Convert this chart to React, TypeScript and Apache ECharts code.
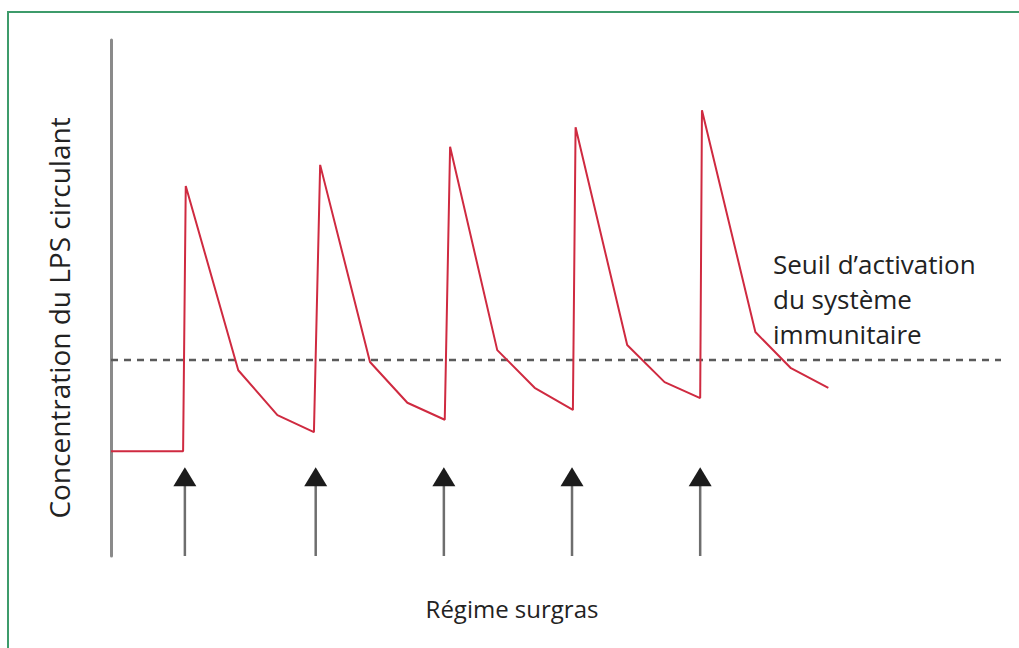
import React, { useEffect, useRef } from "react";
import * as echarts from "echarts";

// Time axis (arbitrary units) and LPS concentration (arbitrary units)
const lpsX = [0, 8.1, 8.4, 14.3, 18.7, 22.8, 23.5, 29.1, 33.3, 37.5, 38.1, 43.4, 47.6, 51.9, 52.2, 58.0, 62.2, 66.2, 66.4, 72.4, 76.4, 80.6];
const lpsY = [20.3, 20.3, 71.7, 36.0, 27.3, 24.0, 75.8, 37.6, 29.7, 26.4, 79.3, 39.9, 32.6, 28.3, 83.1, 40.9, 33.7, 30.6, 86.4, 43.4, 36.4, 32.6];
const threshold = 38.0;
const mealTimes = [8.3, 23.0, 37.4, 51.8, 66.2];
const arrowTop = 17.2;

const yLabel = "Concentration du LPS circulant";
const xLabel = "Régime surgras";
const thresholdLabel = "Seuil d\u2019activation\ndu système\nimmunitaire";

export default function App() {
  const ref = useRef<HTMLDivElement>(null);
  useEffect(() => {
    if (!ref.current) return;
    const chart = echarts.init(ref.current, undefined, { renderer: "svg" });
    const font = "'Open Sans', 'Noto Sans', sans-serif";
    chart.setOption({
      animation: false,
      backgroundColor: "#ffffff",
      grid: { left: 111, top: 40, width: 890, height: 516 },
      xAxis: { type: "value", min: 0, max: 100, show: false },
      yAxis: {
        type: "value",
        min: 0,
        max: 100,
        axisLine: { show: true, lineStyle: { color: "#8a8a8a", width: 3 } },
        axisTick: { show: false },
        axisLabel: { show: false },
        splitLine: { show: false },
      },
      graphic: [
        {
          type: "rect",
          shape: { x: 8, y: 12, width: 1200, height: 800 },
          style: { fill: "none", stroke: "#3d9b6b", lineWidth: 2 },
          silent: true,
        },
        {
          type: "text",
          x: 59,
          y: 318,
          rotation: Math.PI / 2,
          style: {
            text: yLabel,
            font: `28px ${font}`,
            fill: "#222",
            textAlign: "center",
            textVerticalAlign: "middle",
          },
        },
        {
          type: "text",
          x: 512,
          y: 608,
          style: {
            text: xLabel,
            font: `24px ${font}`,
            fill: "#222",
            textAlign: "center",
            textVerticalAlign: "middle",
          },
        },
        {
          type: "text",
          x: 773,
          y: 299,
          style: {
            text: thresholdLabel,
            font: `26px ${font}`,
            lineHeight: 35,
            fill: "#222",
            textAlign: "left",
            textVerticalAlign: "middle",
          },
        },
      ],
      series: [
        {
          type: "line",
          data: [
            [0, threshold],
            [100, threshold],
          ],
          showSymbol: false,
          lineStyle: { color: "#5a5a5a", width: 2.5, type: [7, 6] },
          z: 1,
        },
        {
          type: "line",
          data: lpsX.map((x, i) => [x, lpsY[i]]),
          showSymbol: false,
          lineStyle: { color: "#cf2a40", width: 2 },
          z: 3,
        },
        {
          type: "custom",
          clip: false,
          data: mealTimes.map((t) => [t, arrowTop]),
          renderItem: (params: any, api: any) => {
            const base = api.coord([api.value(0), 0]);
            const tip = api.coord([api.value(0), api.value(1)]);
            const headH = 19;
            const headW = 11.5;
            return {
              type: "group",
              children: [
                {
                  type: "line",
                  shape: { x1: base[0], y1: base[1], x2: tip[0], y2: tip[1] + headH - 1 },
                  style: { stroke: "#6e6e6e", lineWidth: 2.5 },
                },
                {
                  type: "polygon",
                  shape: {
                    points: [
                      [tip[0], tip[1]],
                      [tip[0] - headW, tip[1] + headH],
                      [tip[0] + headW, tip[1] + headH],
                    ],
                  },
                  style: { fill: "#1c1c1c" },
                },
              ],
            };
          },
          z: 2,
        },
      ],
    });
    return () => chart.dispose();
  }, []);
  return (
    <div
      ref={ref}
      style={{ position: "absolute", left: 0, top: 0, width: 1019, height: 648 }}
    />
  );
}
